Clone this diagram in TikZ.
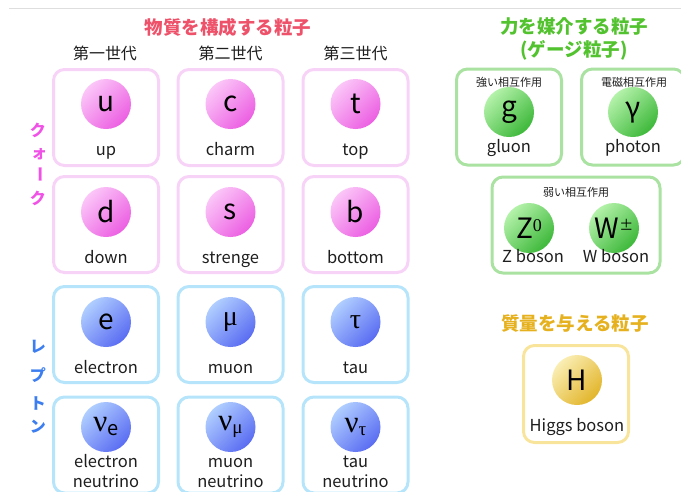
\documentclass[tikz,border=0pt]{standalone}
\usepackage{fontspec}
\setmainfont{Noto Sans CJK JP}
\newfontfamily\grk{Liberation Serif}
\definecolor{pkL}{HTML}{FBC6F8}
\definecolor{pkD}{HTML}{EC5FE2}
\definecolor{pkB}{HTML}{F8D3F8}
\definecolor{blL}{HTML}{B0CEFF}
\definecolor{blD}{HTML}{5A6CF2}
\definecolor{blB}{HTML}{B6E5FB}
\definecolor{grL}{HTML}{B4F2AA}
\definecolor{grD}{HTML}{3DB83A}
\definecolor{grB}{HTML}{AAE2A2}
\definecolor{ydL}{HTML}{FAEEB4}
\definecolor{ydD}{HTML}{E2B52A}
\definecolor{ydB}{HTML}{F9E49C}
\definecolor{txt}{HTML}{1E1E1E}
\definecolor{redT}{HTML}{EE526A}
\definecolor{grnT}{HTML}{52C22E}
\definecolor{gldT}{HTML}{E6B11E}
\definecolor{qkT}{HTML}{F052E6}
\definecolor{lpT}{HTML}{3C7EF0}
\begin{document}
\begin{tikzpicture}[x=1pt,y=-1pt,
  box/.style={draw, line width=3pt, rounded corners=11pt, minimum width=105pt, minimum height=96pt, inner sep=0pt},
  ball/.style={circle, minimum size=50pt, inner sep=0pt, text=black, font=\fontsize{28}{28}\selectfont},
  pk/.style={ball, top color=pkL, bottom color=pkD, shading angle=45},
  bl/.style={ball, top color=blL, bottom color=blD, shading angle=45},
  gr/.style={ball, top color=grL, bottom color=grD, shading angle=45},
  yd/.style={ball, top color=ydL, bottom color=ydD, shading angle=45},
  lab/.style={inner sep=0pt, anchor=base, text=txt, font=\fontsize{16.5}{16.5}\selectfont},
  small/.style={inner sep=0pt, anchor=base, text=txt, font=\fontsize{11}{11}\selectfont},
  hdr/.style={inner sep=0pt, text=txt, font=\fontsize{16}{16}\selectfont},
  ttl/.style={inner sep=0pt, font=\fontsize{18.5}{18.5}\selectfont\bfseries},
  side/.style={inner sep=0pt, font=\fontsize{16}{16}\selectfont\bfseries},
]
\useasboundingbox (0,0) rectangle (681,491);
\draw[black!13, line width=1pt] (9,8) -- (681,8);

% titles
\node[ttl, text=redT] (t1) at (228,27) {物質を構成する粒子};
\node[ttl, text=grnT] (t2) at (574,26) {力を媒介する粒子};
\node[ttl, text=grnT] (t3) at (574,50) {(ゲージ粒子)};
\node[ttl, text=gldT] (t4) at (575,323) {質量を与える粒子};

\node[hdr] (h1) at (105,53) {第一世代};
\node[hdr] (h2) at (230.5,53) {第二世代};
\node[hdr] (h3) at (355.5,53) {第三世代};

% side labels
\node[side, text=qkT] (s1) at (38,130) {ク};
\node[side, text=qkT] (s2) at (39,154) {ォ};
\node[side, text=qkT, rotate=-90] (s3) at (38,174) {ー};
\node[side, text=qkT] (s4) at (38,198) {ク};
\node[side, text=lpT] (s5) at (38,347) {レ};
\node[side, text=lpT] (s6) at (38,375) {プ};
\node[side, text=lpT] (s7) at (38,403) {ト};
\node[side, text=lpT] (s8) at (38,427) {ン};

% quark boxes
\node[box, draw=pkB] (bu) at (106,117.5) {};
\node[box, draw=pkB] (bc) at (230.5,117.5) {};
\node[box, draw=pkB] (bt) at (355.5,117.5) {};
\node[box, draw=pkB] (bd) at (106,224.5) {};
\node[box, draw=pkB] (bs) at (230.5,224.5) {};
\node[box, draw=pkB] (bb) at (355.5,224.5) {};
% lepton boxes
\node[box, draw=blB] (be) at (106,334.5) {};
\node[box, draw=blB] (bm) at (230.5,334.5) {};
\node[box, draw=blB] (bta) at (355.5,334.5) {};
\node[box, draw=blB] (bne) at (106,445) {};
\node[box, draw=blB] (bnm) at (230.5,445) {};
\node[box, draw=blB] (bnt) at (355.5,445) {};

\node[pk] (u) at (106,104) {u};
\node[pk] (c) at (230.5,104) {c};
\node[pk] (t) at (355.5,104) {t};
\node[lab] (lu) at (106,155) {up};
\node[lab] (lc) at (230.5,155) {charm};
\node[lab] (lt) at (355.5,155) {top};

\node[pk] (d) at (106,212) {d};
\node[pk] (s) at (230.5,212) {s};
\node[pk] (b) at (355.5,212) {b};
\node[lab] (ld) at (106,263) {down};
\node[lab] (ls) at (230.5,263) {strenge};
\node[lab] (lb) at (355.5,263) {bottom};

\node[bl] (e) at (106,322) {e};
\node[bl] (mu) at (230.5,322) {\grk μ};
\node[bl] (tau) at (355.5,322) {\grk τ};
\node[lab] (le) at (106,373) {electron};
\node[lab] (lm) at (230.5,373) {muon};
\node[lab] (lta) at (355.5,373) {tau};

\node[bl] (ne) at (106,427) {{\grk\fontsize{31}{31}\selectfont ν}\raisebox{-4pt}{\fontsize{20}{20}\selectfont e}};
\node[bl] (nm) at (230.5,427) {{\grk\fontsize{31}{31}\selectfont ν}\raisebox{-3pt}{\grk\fontsize{19}{19}\selectfont μ}};
\node[bl] (nt) at (355.5,427) {{\grk\fontsize{31}{31}\selectfont ν}\raisebox{-3pt}{\grk\fontsize{19}{19}\selectfont τ}};
\node[lab] (lne1) at (106,467) {electron};
\node[lab] (lne2) at (106,487) {neutrino};
\node[lab] (lnm1) at (230.5,467) {muon};
\node[lab] (lnm2) at (230.5,487) {neutrino};
\node[lab] (lnt1) at (355.5,467) {tau};
\node[lab] (lnt2) at (355.5,487) {neutrino};

% gauge bosons
\node[box, draw=grB] (bg) at (509,117) {};
\node[box, draw=grB, minimum width=103pt] (bgam) at (633,117) {};
\node[box, draw=grB, minimum width=168pt] (bw) at (576,225) {};
\node[small] (sg) at (509,86.5) {強い相互作用};
\node[small] (sgam) at (634,86.5) {電磁相互作用};
\node[small] (sw) at (576,196) {弱い相互作用};
\node[gr] (g) at (509,112) {g};
\node[gr] (gam) at (633,112) {γ};
\node[lab] (lg) at (509,152.5) {gluon};
\node[lab] (lgam) at (633,152.5) {photon};
\node[gr] (z) at (529,228) {Z\raisebox{7pt}{\grk\fontsize{18}{18}\selectfont 0}};
\node[gr] (w) at (614,228) {W\raisebox{8pt}{\fontsize{14}{14}\selectfont ±}};
\node[lab] (lz) at (533,262) {Z boson};
\node[lab] (lw) at (616,262) {W boson};

% Higgs
\node[box, draw=ydB, minimum height=97pt] (bh) at (576,394) {};
\node[yd] (h) at (577,380) {H};
\node[lab] (lh) at (577,431) {Higgs boson};
\end{tikzpicture}
\end{document}
